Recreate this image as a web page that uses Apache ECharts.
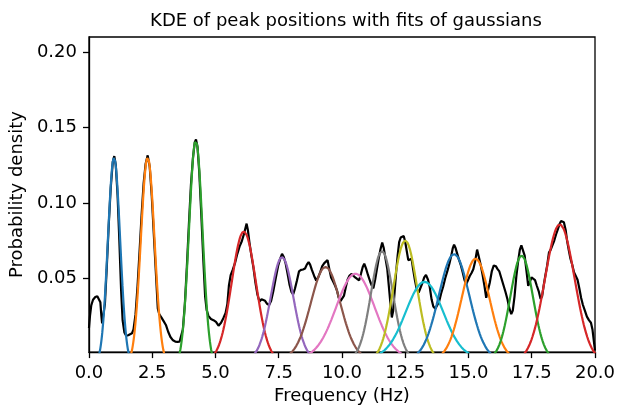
<!DOCTYPE html>
<html>
<head>
<meta charset="utf-8">
<script src="https://cdn.jsdelivr.net/npm/echarts@6/dist/echarts.min.js"></script>
<style>
html,body{margin:0;padding:0;background:#fff;}
#chart{width:628px;height:410px;}
</style>
</head>
<body>
<div id="chart"></div>
<script>
// KDE of peak positions
const kdeX = [0.00,0.04,0.09,0.16,0.25,0.33,0.40,0.45,0.49,0.52,0.57,0.63,0.70,0.78,0.86,0.94,1.00,1.06,1.13,1.20,1.27,1.33,1.40,1.47,1.55,1.62,1.70,1.76,1.84,1.92,2.00,2.08,2.16,2.24,2.32,2.40,2.48,2.56,2.64,2.72,2.78,2.86,2.95,3.04,3.13,3.22,3.32,3.41,3.50,3.58,3.64,3.71,3.79,3.87,3.95,4.03,4.11,4.18,4.23,4.29,4.36,4.44,4.52,4.59,4.65,4.72,4.82,4.92,5.02,5.12,5.22,5.31,5.40,5.47,5.53,5.60,5.68,5.77,5.86,5.95,6.04,6.12,6.18,6.23,6.28,6.34,6.42,6.50,6.58,6.66,6.74,6.82,6.89,6.96,7.04,7.12,7.20,7.28,7.38,7.48,7.56,7.63,7.70,7.77,7.85,7.93,8.00,8.07,8.14,8.22,8.30,8.38,8.46,8.54,8.61,8.68,8.74,8.81,8.90,8.98,9.06,9.14,9.22,9.30,9.37,9.43,9.50,9.57,9.65,9.73,9.80,9.87,9.94,10.01,10.08,10.15,10.22,10.30,10.38,10.45,10.52,10.60,10.68,10.75,10.82,10.88,10.95,11.03,11.11,11.18,11.24,11.31,11.38,11.45,11.52,11.59,11.65,11.72,11.79,11.85,11.91,11.97,12.02,12.08,12.14,12.20,12.26,12.32,12.38,12.44,12.50,12.56,12.62,12.68,12.75,12.81,12.88,12.95,13.03,13.10,13.18,13.25,13.32,13.40,13.47,13.54,13.61,13.69,13.76,13.84,13.92,14.00,14.08,14.17,14.25,14.32,14.38,14.43,14.49,14.55,14.62,14.70,14.77,14.84,14.91,14.98,15.05,15.12,15.19,15.26,15.34,15.41,15.48,15.56,15.63,15.70,15.77,15.84,15.92,16.00,16.08,16.15,16.22,16.30,16.38,16.46,16.54,16.61,16.69,16.75,16.82,16.89,16.96,17.03,17.09,17.16,17.22,17.29,17.36,17.42,17.49,17.56,17.63,17.70,17.78,17.85,17.91,17.97,18.04,18.11,18.18,18.25,18.32,18.39,18.46,18.53,18.60,18.66,18.71,18.77,18.84,18.90,18.97,19.03,19.10,19.17,19.24,19.31,19.38,19.45,19.52,19.60,19.68,19.76,19.84,19.90,19.95,20.00];
const kdeY = [0.0170,0.0250,0.0320,0.0357,0.0375,0.0380,0.0375,0.0340,0.0250,0.0200,0.0210,0.0330,0.0560,0.0850,0.1100,0.1270,0.1310,0.1250,0.1050,0.0750,0.0420,0.0220,0.0140,0.0118,0.0122,0.0125,0.0135,0.0160,0.0260,0.0450,0.0680,0.0920,0.1130,0.1260,0.1315,0.1240,0.1050,0.0800,0.0550,0.0300,0.0260,0.0240,0.0215,0.0190,0.0145,0.0110,0.0088,0.0080,0.0078,0.0079,0.0090,0.0160,0.0330,0.0580,0.0860,0.1120,0.1300,0.1400,0.1420,0.1370,0.1200,0.0920,0.0620,0.0380,0.0290,0.0250,0.0230,0.0222,0.0210,0.0185,0.0205,0.0235,0.0270,0.0330,0.0450,0.0520,0.0555,0.0600,0.0660,0.0710,0.0745,0.0790,0.0830,0.0862,0.0820,0.0740,0.0650,0.0570,0.0470,0.0390,0.0345,0.0360,0.0372,0.0350,0.0330,0.0322,0.0350,0.0410,0.0500,0.0585,0.0630,0.0662,0.0640,0.0600,0.0530,0.0455,0.0410,0.0392,0.0430,0.0485,0.0545,0.0555,0.0558,0.0565,0.0590,0.0607,0.0590,0.0555,0.0515,0.0485,0.0505,0.0540,0.0580,0.0600,0.0608,0.0620,0.0560,0.0505,0.0478,0.0450,0.0420,0.0370,0.0348,0.0346,0.0385,0.0440,0.0490,0.0518,0.0528,0.0520,0.0505,0.0495,0.0487,0.0530,0.0575,0.0596,0.0565,0.0520,0.0480,0.0450,0.0433,0.0490,0.0560,0.0630,0.0690,0.0737,0.0700,0.0630,0.0560,0.0450,0.0340,0.0240,0.0280,0.0410,0.0540,0.0650,0.0740,0.0770,0.0775,0.0780,0.0740,0.0680,0.0620,0.0615,0.0630,0.0560,0.0490,0.0430,0.0405,0.0410,0.0470,0.0505,0.0522,0.0490,0.0440,0.0360,0.0313,0.0298,0.0300,0.0346,0.0400,0.0445,0.0500,0.0550,0.0600,0.0650,0.0700,0.0722,0.0700,0.0665,0.0625,0.0585,0.0540,0.0490,0.0460,0.0460,0.0515,0.0535,0.0560,0.0610,0.0690,0.0640,0.0590,0.0520,0.0450,0.0370,0.0375,0.0470,0.0545,0.0585,0.0580,0.0560,0.0545,0.0500,0.0455,0.0410,0.0360,0.0303,0.0262,0.0285,0.0380,0.0510,0.0610,0.0690,0.0718,0.0705,0.0650,0.0550,0.0450,0.0445,0.0505,0.0500,0.0487,0.0450,0.0411,0.0362,0.0380,0.0450,0.0520,0.0585,0.0670,0.0690,0.0694,0.0750,0.0790,0.0824,0.0860,0.0880,0.0885,0.0872,0.0820,0.0745,0.0680,0.0629,0.0590,0.0540,0.0515,0.0490,0.0433,0.0370,0.0324,0.0285,0.0245,0.0222,0.0205,0.0160,0.0090,0.0020];

// Gaussian fits: centre, peak height, half-width where the fit meets zero
const fitCenter   = [0.99, 2.32, 4.22, 6.12, 7.63, 9.35, 10.53, 11.58, 12.50, 13.26, 14.43, 15.28, 17.10, 18.61];
const fitPeak     = [0.130, 0.130, 0.1414, 0.081, 0.064, 0.0575, 0.053, 0.068, 0.075, 0.0476, 0.066, 0.063, 0.065, 0.0857];
const fitHalfBase = [0.58, 0.65, 0.64, 1.15, 1.08, 1.40, 1.82, 1.05, 1.13, 1.77, 1.45, 1.32, 1.07, 1.40];

const xTicks = [0, 2.5, 5, 7.5, 10, 12.5, 15, 17.5, 20];
const yTicks = [0.05, 0.10, 0.15, 0.20];

const palette = ['#1f77b4','#ff7f0e','#2ca02c','#d62728','#9467bd','#8c564b','#e377c2','#7f7f7f','#bcbd22','#17becf'];
const FONT = 'DejaVu Sans';
const SHAPE = 2.4; // half-base / sigma

function fitPoints(i) {
  const m = fitCenter[i], w = fitHalfBase[i], s = w / SHAPE;
  const z = Math.exp(-SHAPE * SHAPE / 2);
  const a = fitPeak[i] / (1 - z);
  const pts = [];
  const n = 80;
  for (let j = 0; j <= n; j++) {
    const x = m - w + 2 * w * j / n;
    const g = Math.exp(-((x - m) * (x - m)) / (2 * s * s));
    pts.push([x, a * g - a * z]);
  }
  return pts;
}

const series = [{
  type: 'line',
  data: kdeX.map((x, i) => [x, kdeY[i]]),
  showSymbol: false,
  lineStyle: { color: '#000', width: 2.2 },
  itemStyle: { color: '#000' },
  silent: true,
  animation: false,
  z: 2
}];
for (let i = 0; i < fitCenter.length; i++) {
  series.push({
    type: 'line',
    data: fitPoints(i),
    showSymbol: false,
    lineStyle: { color: palette[i % 10], width: 2.2 },
    itemStyle: { color: palette[i % 10] },
    silent: true,
    animation: false,
    z: 3
  });
}

const chart = echarts.init(document.getElementById('chart'), null, { renderer: 'canvas' });
chart.setOption({
  animation: false,
  backgroundColor: '#fff',
  title: {
    text: 'KDE of peak positions with fits of gaussians',
    left: 341,
    top: 7,
    textAlign: 'center',
    textStyle: { fontFamily: FONT, fontSize: 18, fontWeight: 'normal', color: '#000' }
  },
  grid: {
    left: 87, right: 33, top: 37, bottom: 52,
    show: true, borderColor: '#000', borderWidth: 1.3, backgroundColor: 'transparent'
  },
  xAxis: {
    type: 'value',
    min: 0, max: 20, interval: 2.5,
    name: 'Frequency (Hz)',
    nameLocation: 'middle',
    nameGap: 33,
    nameTextStyle: { fontFamily: FONT, fontSize: 18, color: '#000' },
    axisLine: { show: true, onZero: false, lineStyle: { color: '#000', width: 1.3 } },
    axisTick: { show: true, inside: false, length: 6, lineStyle: { color: '#000', width: 1.3 },
      customValues: xTicks },
    axisLabel: { fontFamily: FONT, fontSize: 18, color: '#000', margin: 12,
      customValues: xTicks,
      formatter: v => v.toFixed(1) },
    splitLine: { show: false }
  },
  yAxis: {
    type: 'value',
    min: 0.001, max: 0.21,
    name: 'Probability density',
    nameLocation: 'middle',
    nameGap: 55,
    nameRotate: 90,
    nameTextStyle: { fontFamily: FONT, fontSize: 18, color: '#000' },
    axisLine: { show: true, onZero: false, lineStyle: { color: '#000', width: 1.3 } },
    axisTick: { show: true, inside: false, length: 6, lineStyle: { color: '#000', width: 1.3 },
      customValues: yTicks },
    axisLabel: { fontFamily: FONT, fontSize: 18, color: '#000', margin: 12,
      customValues: yTicks,
      formatter: v => v.toFixed(2) },
    splitLine: { show: false }
  },
  series: series
});
</script>
</body>
</html>
